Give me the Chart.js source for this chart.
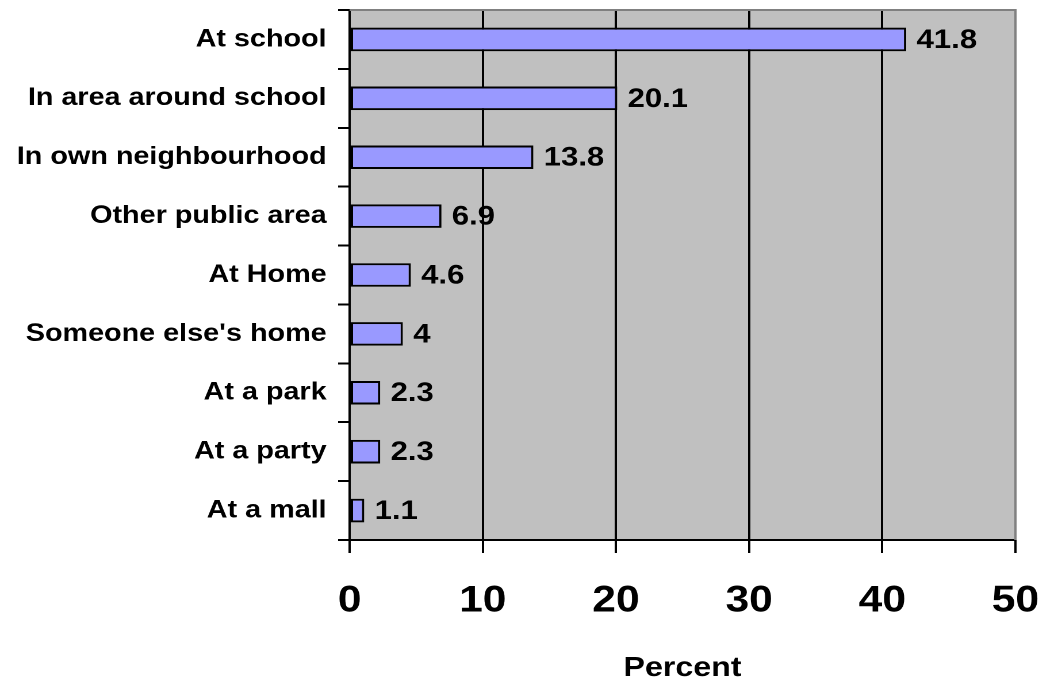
<!DOCTYPE html>
<html>
<head>
<meta charset="utf-8">
<script src="https://cdn.jsdelivr.net/npm/chart.js@4/dist/chart.umd.min.js"></script>
<style>
  html, body { margin: 0; padding: 0; background: #ffffff; overflow: hidden; }
  /* the chart is laid out narrower and widened horizontally, giving the wide-set lettering */
  #wrap { position: absolute; left: 0; top: 0; width: 907px; height: 686px;
          transform: scaleX(1.15); transform-origin: 0 0; }
</style>
</head>
<body>
<div id="wrap"><canvas id="c"></canvas></div>
<script>
// Where incidents took place (percent of responses)
const categories = [
  'At school',
  'In area around school',
  'In own neighbourhood',
  'Other public area',
  'At Home',
  "Someone else's home",
  'At a park',
  'At a party',
  'At a mall'
];
const percentValues = [41.8, 20.1, 13.8, 6.9, 4.6, 4, 2.3, 2.3, 1.1];
const xTickValues = [0, 10, 20, 30, 40, 50];
const axisTitle = 'Percent';

const FONT = "'Liberation Sans', Arial, Helvetica, sans-serif";

// grey plotting area behind everything
const plotBackground = {
  id: 'plotBackground',
  beforeDraw(chart) {
    const { ctx, chartArea: a } = chart;
    ctx.save();
    ctx.fillStyle = '#C0C0C0';
    ctx.fillRect(a.left, a.top, a.right - a.left, a.bottom - a.top);
    ctx.restore();
  }
};

// grey frame on the top and right edges of the plot
const plotFrame = {
  id: 'plotFrame',
  beforeDatasetsDraw(chart) {
    const { ctx, chartArea: a } = chart;
    ctx.save();
    ctx.strokeStyle = '#808080';
    ctx.lineWidth = 2;
    ctx.beginPath();
    ctx.moveTo(a.left, a.top);
    ctx.lineTo(a.right, a.top);
    ctx.lineTo(a.right, a.bottom);
    ctx.stroke();
    ctx.restore();
  }
};

// value written just past the end of each bar
const valueLabels = {
  id: 'valueLabels',
  afterDatasetsDraw(chart) {
    const { ctx } = chart;
    const meta = chart.getDatasetMeta(0);
    const data = chart.data.datasets[0].data;
    ctx.save();
    ctx.font = 'bold 27px ' + FONT;
    ctx.fillStyle = '#000000';
    ctx.textAlign = 'left';
    ctx.textBaseline = 'middle';
    meta.data.forEach((bar, i) => {
      ctx.fillText(String(data[i]), bar.x + 9, bar.y + 1);
    });
    ctx.restore();
  }
};

new Chart(document.getElementById('c'), {
  type: 'bar',
  data: {
    labels: categories,
    datasets: [{
      data: percentValues,
      backgroundColor: '#9999FF',
      borderColor: '#000000',
      borderWidth: 2,
      borderSkipped: false,
      barPercentage: 0.4,
      categoryPercentage: 1.0
    }]
  },
  options: {
    indexAxis: 'y',
    responsive: true,
    maintainAspectRatio: false,
    animation: false,
    devicePixelRatio: 2,
    layout: { padding: { top: 10, right: 24, bottom: 0, left: 0 } },
    plugins: {
      legend: { display: false },
      tooltip: { enabled: false }
    },
    scales: {
      x: {
        type: 'linear',
        min: xTickValues[0],
        max: xTickValues[xTickValues.length - 1],
        afterBuildTicks(scale) {
          scale.ticks = xTickValues.map(v => ({ value: v }));
        },
        afterFit(scale) {
          scale.height = 146;
          scale.paddingLeft = 0;
          scale.paddingRight = 0;
        },
        grid: {
          color: (ctx) => (ctx.tick && ctx.tick.value === 50 ? '#808080' : '#000000'),
          tickColor: '#000000',
          lineWidth: 2,
          tickLength: 13,
          drawOnChartArea: true,
          drawTicks: true
        },
        border: { display: true, color: '#000000', width: 2 },
        ticks: {
          color: '#000000',
          font: { family: FONT, size: 37, weight: 'bold' },
          padding: 26,
          maxRotation: 0,
          autoSkip: false
        },
        title: {
          display: true,
          text: axisTitle,
          color: '#000000',
          font: { family: FONT, size: 28, weight: 'bold' },
          padding: { top: 0, bottom: 1 }
        }
      },
      y: {
        type: 'category',
        offset: true,
        afterFit(scale) {
          scale.width = 304;
          scale.paddingTop = 0;
          scale.paddingBottom = 0;
        },
        grid: {
          offset: true,
          color: '#000000',
          lineWidth: 2,
          drawOnChartArea: false,
          drawTicks: true,
          tickLength: 10
        },
        border: { display: true, color: '#000000', width: 2 },
        ticks: {
          color: '#000000',
          font: { family: FONT, size: 25, weight: 'bold' },
          padding: 10,
          autoSkip: false
        }
      }
    }
  },
  plugins: [plotBackground, plotFrame, valueLabels]
});
</script>
</body>
</html>
